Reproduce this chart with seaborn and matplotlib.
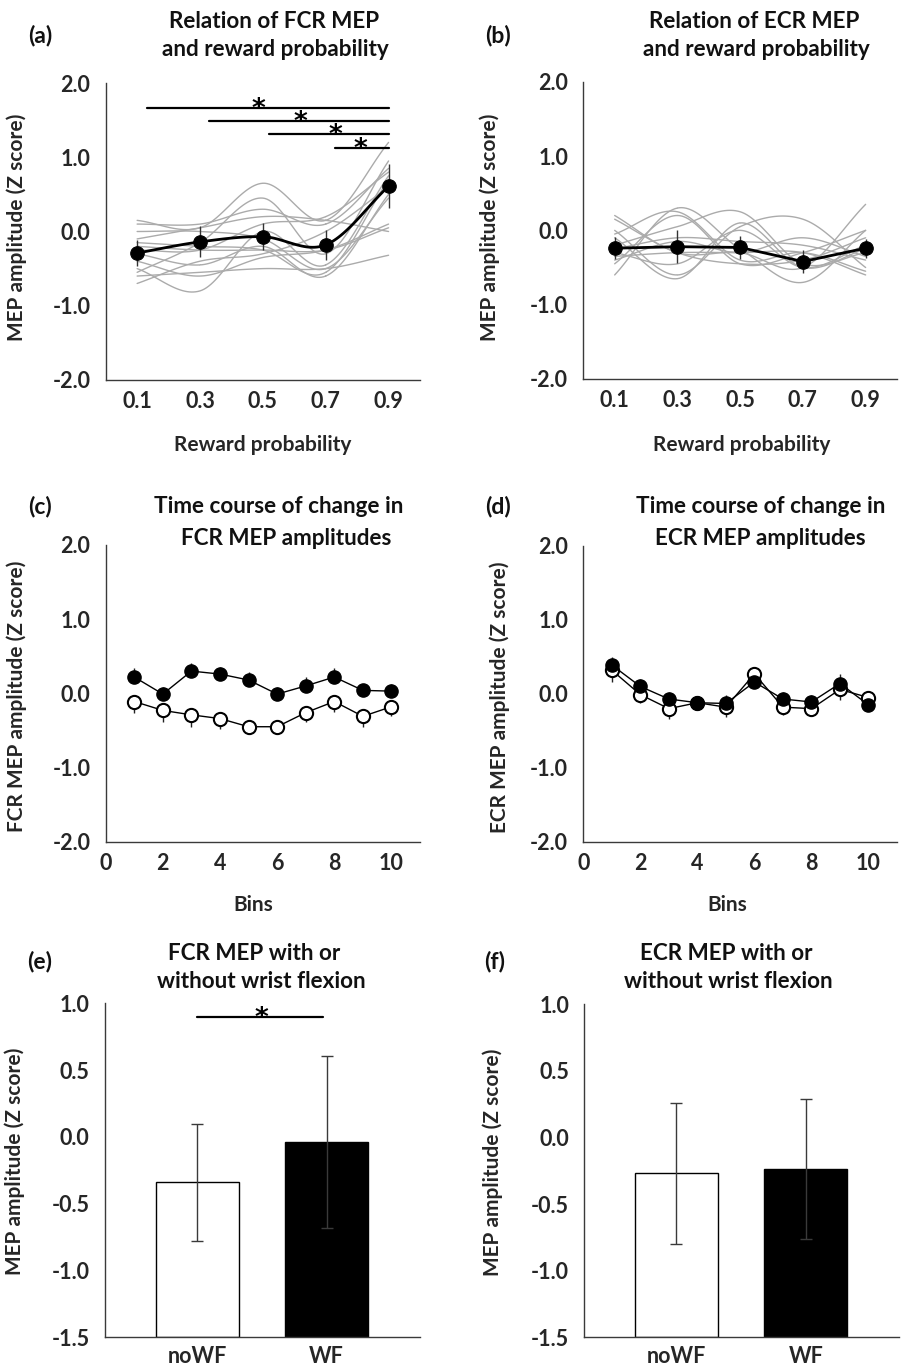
import numpy as np
import pandas as pd
import matplotlib
matplotlib.use("Agg")
import matplotlib.pyplot as plt
import seaborn as sns

# reward probability panels (a, b)
prob = [0.1, 0.3, 0.5, 0.7, 0.9]
fcr_mean = [-0.29, -0.14, -0.07, -0.18, 0.61]
fcr_err = [0.18, 0.21, 0.18, 0.20, 0.30]
fcr_subj = [
    [0.15, 0.05, 0.65, 0.15, 1.20],
    [-0.55, -0.15, 0.45, -0.30, 0.95],
    [0.10, 0.10, 0.30, 0.10, 0.85],
    [-0.25, -0.25, 0.10, 0.20, 0.80],
    [-0.50, -0.80, 0.00, -0.45, 0.75],
    [-0.15, -0.20, -0.25, -0.55, 0.70],
    [-0.70, -0.40, -0.30, 0.00, 0.60],
    [0.00, 0.00, -0.10, -0.50, 0.45],
    [-0.30, -0.45, -0.20, -0.60, 0.50],
    [-0.40, -0.60, -0.35, -0.25, 0.10],
    [-0.20, -0.25, -0.25, -0.25, 0.05],
    [-0.60, -0.55, -0.50, -0.50, -0.32],
    [-0.10, 0.05, 0.20, 0.15, 0.00],
]
ecr_mean = [-0.24, -0.22, -0.23, -0.42, -0.24]
ecr_err = [0.15, 0.22, 0.16, 0.15, 0.13]
ecr_subj = [
    [0.20, -0.30, -0.30, -0.50, 0.35],
    [-0.60, 0.30, -0.25, -0.70, 0.00],
    [-0.05, 0.25, -0.40, -0.30, -0.55],
    [-0.20, 0.05, 0.25, -0.45, -0.30],
    [0.00, -0.60, 0.05, 0.15, -0.50],
    [-0.40, -0.15, -0.30, -0.10, -0.35],
    [-0.30, -0.45, 0.00, -0.50, -0.20],
    [-0.25, -0.10, -0.15, -0.20, -0.40],
    [0.15, -0.30, -0.45, -0.40, -0.10],
    [-0.35, -0.30, -0.30, -0.30, -0.60],
    [-0.10, -0.65, 0.10, -0.50, -0.25],
    [-0.45, 0.20, -0.45, -0.30, 0.00],
]
# significance bars in (a): start, end, height, star x
sig_start = [0.13, 0.33, 0.52, 0.73]
sig_end = [0.90, 0.90, 0.90, 0.90]
sig_y = [1.66, 1.49, 1.31, 1.12]
sig_star = [0.485, 0.62, 0.73, 0.81]

# time course panels (c, d)
bins = [1, 2, 3, 4, 5, 6, 7, 8, 9, 10]
fcr_wf = [0.22, -0.01, 0.30, 0.26, 0.18, -0.01, 0.10, 0.22, 0.04, 0.03]
fcr_nowf = [-0.11, -0.23, -0.29, -0.34, -0.45, -0.45, -0.26, -0.11, -0.31, -0.18]
fcr_wf_err = [0.12, 0.10, 0.11, 0.10, 0.11, 0.10, 0.12, 0.12, 0.09, 0.10]
fcr_nowf_err = [0.16, 0.15, 0.17, 0.14, 0.10, 0.10, 0.12, 0.14, 0.15, 0.13]
ecr_wf = [0.39, 0.10, -0.07, -0.12, -0.13, 0.16, -0.07, -0.11, 0.14, -0.15]
ecr_nowf = [0.32, -0.01, -0.20, -0.12, -0.18, 0.27, -0.18, -0.20, 0.06, -0.05]
ecr_wf_err = [0.11, 0.10, 0.09, 0.08, 0.12, 0.08, 0.10, 0.09, 0.13, 0.06]
ecr_nowf_err = [0.16, 0.12, 0.14, 0.10, 0.13, 0.08, 0.10, 0.10, 0.14, 0.07]

# bar panels (e, f)
conds = ["noWF", "WF"]
fcr_bar = [-0.34, -0.036]
fcr_bar_sd = [0.44, 0.645]
ecr_bar = [-0.27, -0.234]
ecr_bar_sd = [0.53, 0.525]

TICK = 15.5
LAB = 15
TITLE = 16.2
PANEL = 16.5


def smooth(xs, ys, n=30):
    # Catmull-Rom curve through the points, like Excel's smoothed line
    x = np.asarray(xs, float)
    y = np.asarray(ys, float)
    px = np.concatenate([[2 * x[0] - x[1]], x, [2 * x[-1] - x[-2]]])
    py = np.concatenate([[2 * y[0] - y[1]], y, [2 * y[-1] - y[-2]]])
    t = np.linspace(0, 1, n)
    ox, oy = [], []
    for i in range(1, len(px) - 2):
        for arr, out in ((px, ox), (py, oy)):
            p0, p1, p2, p3 = arr[i - 1:i + 3]
            out.extend(0.5 * (2 * p1 + (p2 - p0) * t
                              + (2 * p0 - 5 * p1 + 4 * p2 - p3) * t ** 2
                              + (3 * p1 - p0 - 3 * p2 + p3) * t ** 3))
    return ox, oy


sns.set_theme(style="white")
plt.rcParams["font.family"] = ["Lato", "DejaVu Sans"]
plt.rcParams["font.weight"] = "bold"
plt.rcParams["axes.labelweight"] = "bold"
plt.rcParams["axes.unicode_minus"] = False

W, H = 903, 1370
fig = plt.figure(figsize=(W / 100, H / 100), dpi=100)


def add_ax(left, right, top, bottom):
    return fig.add_axes([left / W, 1 - bottom / H, (right - left) / W, (bottom - top) / H])


def style(ax, ylim, yticks, ypad=11, xpad=8):
    ax.set_ylim(*ylim)
    ax.set_yticks(yticks)
    ax.set_yticklabels(["%.1f" % v for v in yticks])
    for s in ["top", "right"]:
        ax.spines[s].set_visible(False)
    for s in ["left", "bottom"]:
        ax.spines[s].set_color("#3a3a3a")
        ax.spines[s].set_linewidth(1.0)
    ax.tick_params(axis="y", length=0, pad=ypad, labelsize=TICK)
    ax.tick_params(axis="x", length=0, pad=xpad, labelsize=TICK)
    ax.set_facecolor("white")


def ftext(x, y, s, size=TITLE, ha="center"):
    fig.text(x / W, 1 - y / H, s, ha=ha, va="center", fontsize=size, fontweight="bold", color="#111111")


def star(ax, x, y, px_per_unit):
    # asterisk sitting on top of a significance line
    ax.text(x, y - 9.0 / px_per_unit, "*", ha="center", va="baseline", fontsize=19,
            family="DejaVu Sans", fontweight="bold", color="black")


def prob_panel(ax, subj, mean, err, smooth_mean):
    rows = []
    for k, vals in enumerate(subj):
        sx, sy = smooth(prob, vals)
        rows.append(pd.DataFrame({"x": sx, "y": sy, "subject": k}))
    df = pd.concat(rows)
    sns.lineplot(data=df, x="x", y="y", units="subject", estimator=None, color="#ababab",
                 linewidth=1.0, sort=False, ax=ax, legend=False)
    if smooth_mean:
        mx, my = smooth(prob, mean)
    else:
        mx, my = prob, mean
    sns.lineplot(x=mx, y=my, color="black", linewidth=2.0, sort=False, ax=ax, zorder=4)
    ax.errorbar(prob, mean, yerr=err, fmt="none", ecolor="#333333", elinewidth=1.0, capsize=0, zorder=3)
    sns.scatterplot(x=prob, y=mean, color="black", s=95, edgecolor="black", ax=ax, zorder=5)
    ax.set_xlim(0, 1.0)
    ax.set_xticks(prob)
    ax.set_xticklabels(["%.1f" % p for p in prob])
    style(ax, (-2, 2), [2.0, 1.0, 0.0, -1.0, -2.0])
    ax.set_xlabel("")
    ax.set_ylabel("")


# (a)
ax_a = add_ax(105.7, 420, 83, 380)
prob_panel(ax_a, fcr_subj, fcr_mean, fcr_err, True)
for x0, x1, yv, xs in zip(sig_start, sig_end, sig_y, sig_star):
    ax_a.plot([x0, x1], [yv, yv], color="black", linewidth=1.6)
    star(ax_a, xs, yv, 74.3)
ax_a.set_ylabel("MEP amplitude (Z score)", fontsize=LAB)
ax_a.yaxis.set_label_coords(-0.25, 0.515)
ax_a.set_xlabel("Reward probability", fontsize=LAB)
ax_a.xaxis.set_label_coords(0.5, -0.219)
ax_a.xaxis.label.set_va("center")
ftext(40, 35, "(a)", PANEL)
ftext(274, 21.7, "Relation of FCR MEP")
ftext(275.5, 50, "and reward probability")

# (b)
ax_b = add_ax(583.3, 897, 81.7, 379)
prob_panel(ax_b, ecr_subj, ecr_mean, ecr_err, False)
ax_b.set_ylabel("MEP amplitude (Z score)", fontsize=LAB)
ax_b.yaxis.set_label_coords(-0.266, 0.51)
ax_b.set_xlabel("Reward probability", fontsize=LAB)
ax_b.xaxis.set_label_coords(0.505, -0.222)
ax_b.xaxis.label.set_va("center")
ftext(498, 35, "(b)", PANEL)
ftext(754, 21.7, "Relation of ECR MEP")
ftext(756, 50, "and reward probability")


def time_panel(ax, wf, wf_err, nowf, nowf_err):
    n = len(bins)
    ax.errorbar(bins, wf, yerr=[[0] * n, wf_err], fmt="none", ecolor="#222222", elinewidth=1.0, zorder=2)
    ax.errorbar(bins, nowf, yerr=[nowf_err, [0] * n], fmt="none", ecolor="#222222", elinewidth=1.0, zorder=2)
    sns.lineplot(x=bins, y=nowf, color="black", linewidth=1.0, marker="o", markersize=9.5,
                 markerfacecolor="white", markeredgecolor="black", markeredgewidth=1.5, ax=ax, zorder=4)
    sns.lineplot(x=bins, y=wf, color="black", linewidth=1.0, marker="o", markersize=9.5,
                 markerfacecolor="black", markeredgecolor="black", markeredgewidth=1.0, ax=ax, zorder=5)
    ax.set_xlim(0, 11)
    ax.set_xticks([0, 2, 4, 6, 8, 10])
    ax.set_xticklabels(["0", "2", "4", "6", "8", "10"])
    style(ax, (-2, 2), [2.0, 1.0, 0.0, -1.0, -2.0])


# (c)
ax_c = add_ax(105.7, 420, 545, 841.7)
time_panel(ax_c, fcr_wf, fcr_wf_err, fcr_nowf, fcr_nowf_err)
ax_c.set_ylabel("FCR MEP amplitude (Z score)", fontsize=LAB)
ax_c.yaxis.set_label_coords(-0.25, 0.49)
ax_c.set_xlabel("Bins", fontsize=LAB)
ax_c.xaxis.set_label_coords(0.468, -0.213)
ax_c.xaxis.label.set_va("center")
ftext(40, 506.7, "(c)", PANEL)
ftext(279, 506.7, "Time course of change in")
ftext(286, 538.3, "FCR MEP amplitudes")

# (d)
ax_d = add_ax(583.3, 897, 546, 841.7)
time_panel(ax_d, ecr_wf, ecr_wf_err, ecr_nowf, ecr_nowf_err)
ax_d.set_ylabel("ECR MEP amplitude (Z score)", fontsize=LAB)
ax_d.yaxis.set_label_coords(-0.234, 0.49)
ax_d.set_xlabel("Bins", fontsize=LAB)
ax_d.xaxis.set_label_coords(0.46, -0.213)
ax_d.xaxis.label.set_va("center")
ftext(498, 506.7, "(d)", PANEL)
ftext(760.5, 506.7, "Time course of change in")
ftext(760, 538.3, "ECR MEP amplitudes")


def bar_panel(ax, vals, sds):
    df = pd.DataFrame({"cond": conds, "val": vals})
    sns.barplot(data=df, x="cond", y="val", hue="cond", palette=["white", "black"], width=0.64,
                edgecolor="black", linewidth=1.0, legend=False, ax=ax)
    for p in ax.patches:
        h = p.get_height()
        p.set_y(-1.5)
        p.set_height(h + 1.5)
    ax.errorbar([0, 1], vals, yerr=sds, fmt="none", ecolor="#3a3a3a", elinewidth=1.0,
                capsize=4.5, capthick=1.0, zorder=5)
    ax.set_xlim(-0.71, 1.72)
    style(ax, (-1.5, 1.0), [1.0, 0.5, 0.0, -0.5, -1.0, -1.5], xpad=6)
    ax.set_xlabel("")
    ax.set_ylabel("MEP amplitude (Z score)", fontsize=LAB)


# (e)
ax_e = add_ax(105, 420, 1003.3, 1337.3)
bar_panel(ax_e, fcr_bar, fcr_bar_sd)
ax_e.plot([0, 0.97], [0.90, 0.90], color="black", linewidth=1.6)
star(ax_e, 0.5, 0.90, 133.6)
ax_e.yaxis.set_label_coords(-0.254, 0.526)
ftext(40, 961.7, "(e)", PANEL)
ftext(254.5, 953.3, "FCR MEP with or")
ftext(261.5, 981.7, "without wrist flexion")

# (f)
ax_f = add_ax(584.3, 899, 1004.3, 1337.3)
bar_panel(ax_f, ecr_bar, ecr_bar_sd)
ax_f.yaxis.set_label_coords(-0.258, 0.526)
ftext(495, 961.7, "(f)", PANEL)
ftext(726, 953.3, "ECR MEP with or")
ftext(728.4, 981.7, "without wrist flexion")

fig.savefig("out.png", dpi=100, facecolor="white")
